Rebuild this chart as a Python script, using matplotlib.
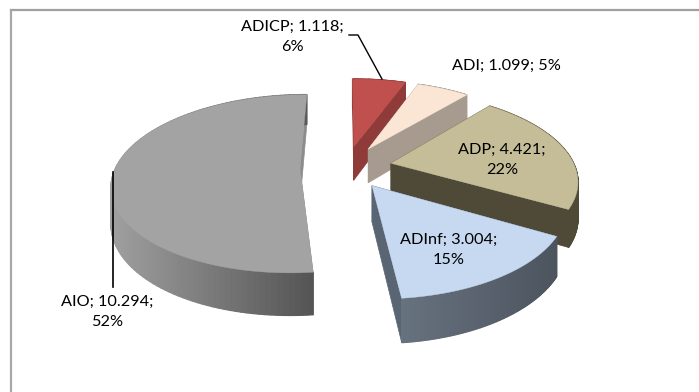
import numpy as np
import matplotlib
matplotlib.use('Agg')
import matplotlib.pyplot as plt
from matplotlib.colors import to_rgb
from matplotlib.patches import Polygon

plt.rcParams['font.family'] = ['Lato', 'DejaVu Sans']

# slices clockwise from 12 o'clock
names = ['ADICP', 'ADI', 'ADP', 'ADInf', 'AIO']
values = [1118, 1099, 4421, 3004, 10294]
percents = [6, 5, 22, 15, 52]

top_colors = ['#C0504D', '#FBE6D6', '#C4BD97', '#C6D9F0', '#A3A3A3']
side_left = ['#8E3B39', '#A79B90', '#4F4A37', '#67727F', '#A0A0A0']
side_right = ['#8E3B39', '#A79B90', '#4F4A37', '#4C545E', '#555555']
wall_colors = ['#8E3B39', '#A79B90', '#4F4A37', '#5A6573', '#8C8C8C']

# projection of the tilted pie onto pixels
X0, Y0 = 346, 167
A, B, K = 184, 86, 0.175
DEPTH = 35
EXPLODE = 0.25


def project(u, v, z=0):
    w = 1 + K * v
    return X0 + A * u / w, Y0 - B * v / w + DEPTH * z / w


def label(name, value):
    return f"{name}; {value // 1000}.{value % 1000:03d};"


fig = plt.figure(figsize=(6.99, 3.92), dpi=100)
ax = fig.add_axes([0, 0, 1, 1])
ax.set_xlim(0, 699)
ax.set_ylim(392, 0)
ax.axis('off')

# only the top and left of the chart border are in the picture
ax.plot([11, 699], [10, 10], color='#A0A0A0', lw=1.6)
ax.plot([11, 11], [10, 392], color='#A8A8A8', lw=1.6)

fractions = np.array(values) / sum(values)
ends = 90 - 360 * np.cumsum(fractions)
starts = ends + 360 * fractions

# painter's order: back slices first, the front one last
for i in [0, 1, 2, 4, 3]:
    a = np.radians(np.linspace(starts[i], ends[i], 120))
    mid = np.radians((starts[i] + ends[i]) / 2)
    tu, tv = EXPLODE * np.cos(mid), EXPLODE * np.sin(mid)
    u = tu + np.cos(a)
    v = tv + np.sin(a)

    us = np.r_[tu, u]
    vs = np.r_[tv, v]
    top = np.column_stack(project(us, vs, 0))
    bottom = np.column_stack(project(us, vs, 1))
    z = 2 + i * 0.01

    # straight walls
    for j in [0, len(us) - 1]:
        k = (j + 1) % len(us)
        wall = [top[j], top[k], bottom[k], bottom[j]]
        ax.add_patch(Polygon(wall, fc=wall_colors[i], ec=wall_colors[i], lw=0.5, zorder=z))

    # outer wall, shaded left to right
    x_top, y_top = project(u, v, 0)
    x_bot, y_bot = project(u, v, 1)
    c0 = np.array(to_rgb(side_left[i]))
    c1 = np.array(to_rgb(side_right[i]))
    span = max(x_top.max() - x_top.min(), 1)
    for j in range(len(u) - 1):
        t = (x_top[j] - x_top.min()) / span
        col = c0 + (c1 - c0) * t
        quad = [(x_top[j], y_top[j]), (x_top[j + 1], y_top[j + 1]),
                (x_bot[j + 1], y_bot[j + 1]), (x_bot[j], y_bot[j])]
        ax.add_patch(Polygon(quad, fc=col, ec=col, lw=1.0, zorder=z))
    ax.add_patch(Polygon(top, fc=top_colors[i], ec=top_colors[i], lw=0.3, zorder=z))

ax.plot([349, 358, 382], [35, 35, 79], color='black', lw=1, zorder=5)
ax.plot([113, 113], [172, 287], color='black', lw=1.2, zorder=5)

fs = 11.7
ls = 1.6
ax.text(292, 37, label(names[0], values[0]) + f"\n{percents[0]}%", ha='center', va='center', fontsize=fs, zorder=6, linespacing=ls)
ax.text(506, 66, label(names[1], values[1]) + f" {percents[1]}%", ha='center', va='center', fontsize=fs, zorder=6)
ax.text(502, 160, label(names[2], values[2]) + f"\n{percents[2]}%", ha='center', va='center', fontsize=fs, zorder=6, linespacing=ls)
ax.text(449, 250, label(names[3], values[3]) + f"\n{percents[3]}%", ha='center', va='center', fontsize=fs, zorder=6, linespacing=ls)
ax.text(107, 312, label(names[4], values[4]) + f"\n{percents[4]}%", ha='center', va='center', fontsize=fs, zorder=6, linespacing=ls)

fig.savefig('out.png', dpi=100)
